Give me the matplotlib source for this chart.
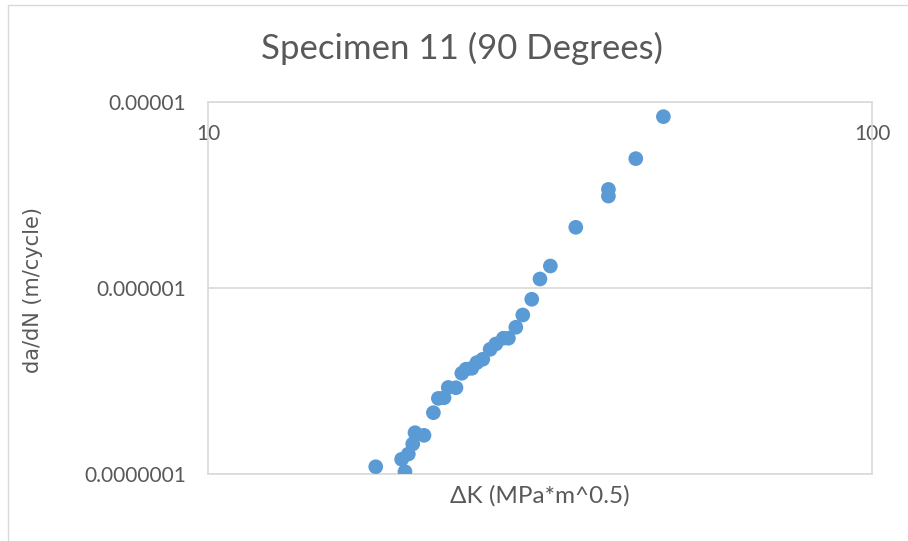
import matplotlib
matplotlib.use("Agg")
import matplotlib.pyplot as plt
from matplotlib.patches import Rectangle

# Stress intensity factor range (MPa*m^0.5) and crack growth rate (m/cycle)
delta_k = [17.89, 19.80, 19.57, 20.03, 20.34, 20.50, 21.15, 21.85, 22.23, 22.67,
           23.01, 23.63, 24.11, 24.47, 24.96, 25.40, 25.93, 26.60, 27.13, 27.85,
           28.34, 29.08, 29.79, 30.73, 31.62, 32.78, 35.80, 40.09, 40.09, 44.08,
           48.51]
dadn = [1.094e-7, 1.029e-7, 1.20e-7, 1.28e-7, 1.45e-7, 1.667e-7, 1.614e-7, 2.136e-7,
        2.55e-7, 2.57e-7, 2.92e-7, 2.91e-7, 3.48e-7, 3.66e-7, 3.70e-7, 3.97e-7,
        4.14e-7, 4.68e-7, 5.00e-7, 5.37e-7, 5.37e-7, 6.15e-7, 7.16e-7, 8.70e-7,
        1.118e-6, 1.313e-6, 2.12e-6, 3.12e-6, 3.39e-6, 4.96e-6, 8.34e-6]

x_ticks = [10, 100]
x_tick_labels = ["10", "100"]
y_ticks = [1e-7, 1e-6, 1e-5]
y_tick_labels = ["0.0000001", "0.000001", "0.00001"]

TEXT = "#595959"
GRID = "#d9d9d9"
BLUE = "#5b9bd5"
FONT = ["Lato", "DejaVu Sans"]

fig = plt.figure(figsize=(9.08, 5.41), dpi=100)
fig.patches.append(Rectangle((8 / 908, -0.1), 1.2, 1 - 5 / 541 + 0.1,
                             transform=fig.transFigure, fill=False,
                             edgecolor=GRID, linewidth=1.0))

ax = fig.add_axes([208 / 908, 1 - 474 / 541, (872 - 208) / 908, (474 - 102) / 541])
ax.scatter(delta_k, dadn, s=112, color=BLUE, edgecolors="none", zorder=3)

ax.set_xscale("log")
ax.set_yscale("log")
ax.set_xlim(10, 100)
ax.set_ylim(1e-7, 1e-5)

ax.set_xticks(x_ticks)
ax.set_xticklabels(x_tick_labels, family=FONT, fontsize=15, color=TEXT)
ax.set_yticks(y_ticks)
ax.set_yticklabels(y_tick_labels, family=FONT, fontsize=15, color=TEXT)
ax.minorticks_off()
ax.tick_params(axis="x", which="both", bottom=False, labelbottom=False,
               top=False, labeltop=True, length=0, pad=-30)
ax.tick_params(axis="y", which="both", length=0, pad=16)

ax.grid(True, axis="y", which="major", color=GRID, linewidth=1.2, zorder=0)
for s in ax.spines.values():
    s.set_color(GRID)
    s.set_linewidth(1.2)

fig.text(462 / 908, 1 - 48 / 541, "Specimen 11 (90 Degrees)", family=FONT,
         fontsize=25, color=TEXT, ha="center", va="center")
ax.set_xlabel("ΔK (MPa*m^0.5)", family=FONT, fontsize=17.5, color=TEXT)
ax.xaxis.set_label_coords(0.5, (474 - 496) / 372)
ax.xaxis.label.set_va("center")
ax.set_ylabel("da/dN (m/cycle)", family=["DejaVu Sans"], fontsize=15, color=TEXT)
ax.yaxis.set_label_coords((33 - 208) / 664, (474 - 290) / 372)
ax.yaxis.label.set_va("center")

fig.savefig("out.png", dpi=100, facecolor="white")
